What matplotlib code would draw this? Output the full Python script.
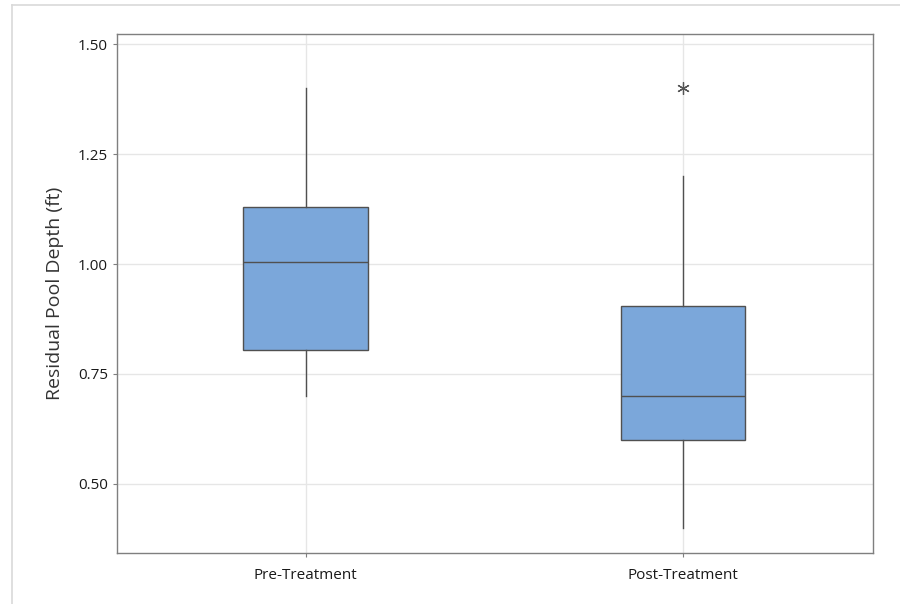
import matplotlib
matplotlib.use("Agg")
import matplotlib.pyplot as plt
from matplotlib.lines import Line2D

# box summary values
groups = ["Pre-Treatment", "Post-Treatment"]
whisker_low = [0.70, 0.40]
q1 = [0.805, 0.60]
median = [1.005, 0.70]
q3 = [1.13, 0.905]
whisker_high = [1.40, 1.20]
outliers = [[], [1.40]]

plt.rcParams['font.family'] = ['Open Sans', 'DejaVu Sans']

stats = []
for i in range(len(groups)):
    stats.append({"label": groups[i], "whislo": whisker_low[i], "q1": q1[i],
                  "med": median[i], "q3": q3[i], "whishi": whisker_high[i],
                  "fliers": outliers[i]})

fig = plt.figure(figsize=(9, 6.04), dpi=100)
ax = fig.add_axes([117/900, 1 - 553/604, (873-117)/900, (553-34)/604])

# light frame around the figure (top and left only)
fig.add_artist(Line2D([12/900, 1], [1 - 5/604, 1 - 5/604], color="#d9d9d9", lw=1.2))
fig.add_artist(Line2D([12/900, 12/900], [0, 1 - 5/604], color="#d9d9d9", lw=1.2))

edge = "#505050"
ax.bxp(stats, positions=[1, 2], widths=0.33, patch_artist=True, showcaps=False,
       boxprops=dict(facecolor="#7ba7da", edgecolor=edge, linewidth=1),
       medianprops=dict(color=edge, linewidth=1),
       whiskerprops=dict(color=edge, linewidth=1),
       flierprops=dict(marker=(6, 2, 0), markersize=9, markeredgecolor="#555555",
                       markerfacecolor="#555555", linestyle="none", markeredgewidth=0.9))

ax.set_xlim(0.5, 2.503)
ax.set_ylim(0.343, 1.523)
ax.set_yticks([0.50, 0.75, 1.00, 1.25, 1.50])
ax.set_yticklabels(["0.50", "0.75", "1.00", "1.25", "1.50"])
ax.grid(True, color="#e6e6e6", linewidth=1)
ax.set_axisbelow(True)

for s in ax.spines.values():
    s.set_color("#7f7f7f")
    s.set_linewidth(1)
ax.tick_params(axis="both", length=3, color="#7f7f7f", labelsize=11, labelcolor="#1a1a1a")
ax.tick_params(axis="x", pad=8)
ax.set_ylabel("Residual Pool Depth (ft)", fontsize=14, color="#333333", labelpad=10)

plt.savefig("out.png", dpi=100)
